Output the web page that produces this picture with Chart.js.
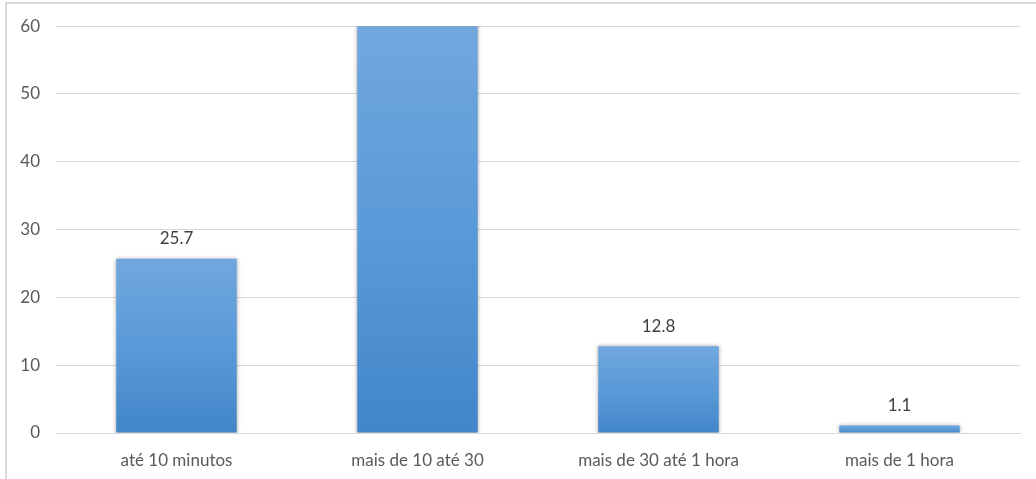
<!DOCTYPE html>
<html>
<head>
<meta charset="utf-8">
<script src="https://cdn.jsdelivr.net/npm/chart.js@4/dist/chart.umd.min.js"></script>
<style>
  html, body { margin: 0; padding: 0; background: #fff; }
  #wrap { position: relative; width: 1036px; height: 479px; }
  #frame { position: absolute; left: 5px; top: 2px; right: 0; bottom: 0;
           border-left: 2px solid #d9d9d9; border-top: 2px solid #d9d9d9; pointer-events: none; }
  canvas { position: absolute; left: 0; top: 0; }
</style>
</head>
<body>
<div id="wrap">
  <canvas id="c" width="1036" height="479"></canvas>
  <div id="frame"></div>
</div>
<script>
const categories = ["até 10 minutos", "mais de 10 até 30", "mais de 30 até 1 hora", "mais de 1 hora"];
const values = [25.7, 60.4, 12.8, 1.1];
const yTicks = [0, 10, 20, 30, 40, 50, 60];

const FONT = "Lato, 'Open Sans', sans-serif";

function barGradient(ctx) {
  const chart = ctx.chart;
  const y = chart.scales && chart.scales.y;
  if (!y || ctx.dataIndex === undefined) return '#5b9bd5';
  const v = Math.min(ctx.raw, y.max);
  const top = y.getPixelForValue(v);
  const bot = y.getPixelForValue(0);
  if (!isFinite(top) || !isFinite(bot) || top === bot) return '#5b9bd5';
  const g = chart.ctx.createLinearGradient(0, top, 0, bot);
  g.addColorStop(0, '#71a7dd');
  g.addColorStop(0.5, '#5a9ad8');
  g.addColorStop(1, '#4286c8');
  return g;
}

const shadowPlugin = {
  id: 'barShadow',
  beforeDatasetsDraw(chart) {
    const c = chart.ctx;
    c.save();
    c.shadowColor = 'rgba(0,0,0,0.35)';
    c.shadowBlur = 4;
    c.shadowOffsetX = 0;
    c.shadowOffsetY = 0;
  },
  afterDatasetsDraw(chart) {
    chart.ctx.restore();
  }
};

const labelPlugin = {
  id: 'valueLabels',
  afterDatasetsDraw(chart) {
    const c = chart.ctx;
    const meta = chart.getDatasetMeta(0);
    const y = chart.scales.y;
    c.save();
    c.font = "17px " + FONT;
    c.fillStyle = '#404040';
    c.textAlign = 'center';
    c.textBaseline = 'middle';
    meta.data.forEach((bar, i) => {
      const v = values[i];
      if (v > y.max) return;
      c.fillText(String(v), bar.x, bar.y - 20);
    });
    c.restore();
  }
};

new Chart(document.getElementById('c'), {
  type: 'bar',
  data: {
    labels: categories,
    datasets: [{
      data: values,
      backgroundColor: barGradient,
      borderWidth: 0,
      barPercentage: 0.5,
      categoryPercentage: 1.0
    }]
  },
  options: {
    responsive: false,
    animation: false,
    devicePixelRatio: 1,
    layout: { padding: { top: 25, right: 16, bottom: 9, left: 0 } },
    plugins: {
      legend: { display: false },
      title: { display: false },
      tooltip: { enabled: false }
    },
    scales: {
      x: {
        afterFit(scale) { scale.height = 37; },
        grid: { display: false, drawTicks: false },
        border: { display: true, color: '#d9d9d9', width: 1 },
        ticks: { color: '#595959', font: { family: FONT, size: 17 }, padding: 17, maxRotation: 0 }
      },
      y: {
        min: 0,
        max: 60,
        afterBuildTicks(scale) { scale.ticks = yTicks.map(v => ({ value: v })); },
        afterFit(scale) { scale.width = 56; },
        grid: { color: '#d9d9d9', lineWidth: 1, drawTicks: false },
        border: { display: false },
        ticks: { color: '#595959', font: { family: FONT, size: 17 }, padding: 16 }
      }
    }
  },
  plugins: [shadowPlugin, labelPlugin]
});
</script>
</body>
</html>
